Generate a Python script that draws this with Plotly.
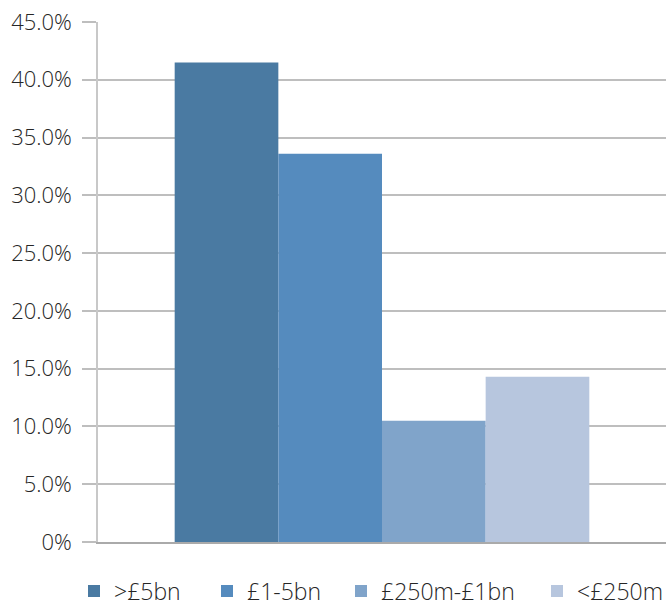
import plotly.graph_objects as go

categories = ["All"]
series_names = [">£5bn", "£1-5bn", "£250m-£1bn", "<£250m"]
series_values = [41.5, 33.6, 10.5, 14.3]
series_colors = ["#4A7AA2", "#558BBE", "#80A4CA", "#B7C6DE"]
tick_vals = [0, 5, 10, 15, 20, 25, 30, 35, 40, 45]
tick_text = ["0%", "5.0%", "10.0%", "15.0%", "20.0%", "25.0%", "30.0%", "35.0%", "40.0%", "45.0%"]

# legend text start positions (px) in the 670-wide figure
legend_text_px = [116, 249, 383, 579]

L, R, T, B = 98, 4, 22, 64
W, H = 670, 606
pw = W - L - R
ph = H - T - B

font_family = "Open Sans, Segoe UI, sans-serif"
legend_font = dict(size=23, color="#262626", family=font_family, weight=300)

fig = go.Figure()
layout_legends = {}
for i, (name, val, col) in enumerate(zip(series_names, series_values, series_colors)):
    lname = "legend" if i == 0 else f"legend{i+1}"
    fig.add_trace(go.Bar(x=categories, y=[val], name=name, legend=lname,
                         marker=dict(color=col, line=dict(width=0))))
    left_px = legend_text_px[i] - 42
    layout_legends[lname] = dict(
        x=(left_px - L) / pw, xanchor="left",
        y=(ph + T - 591) / ph, yanchor="middle",
        orientation="h", font=legend_font, itemwidth=30,
        bgcolor="rgba(0,0,0,0)",
    )

fig.update_layout(
    width=W, height=H,
    margin=dict(l=L, r=R, t=T, b=B, autoexpand=False),
    paper_bgcolor="white", plot_bgcolor="white",
    barmode="group", bargap=0.27, bargroupgap=0,
    font=dict(family=font_family, size=22, color="#262626", weight=300),
    showlegend=True,
    **layout_legends,
)
fig.update_yaxes(range=[0, 45], tickvals=tick_vals, ticktext=tick_text,
                 showgrid=True, gridcolor="#BEBEBE", gridwidth=1.5,
                 ticks="outside", ticklen=14, tickcolor="#BEBEBE", tickwidth=1.5,
                 showline=True, linecolor="#C8C8C8", linewidth=1.5,
                 ticklabelstandoff=6, zeroline=False)
fig.update_xaxes(showticklabels=False, showline=True, linecolor="#AAAAAA", linewidth=1.5,
                 showgrid=False, ticks="")

fig.write_html("out.html")
